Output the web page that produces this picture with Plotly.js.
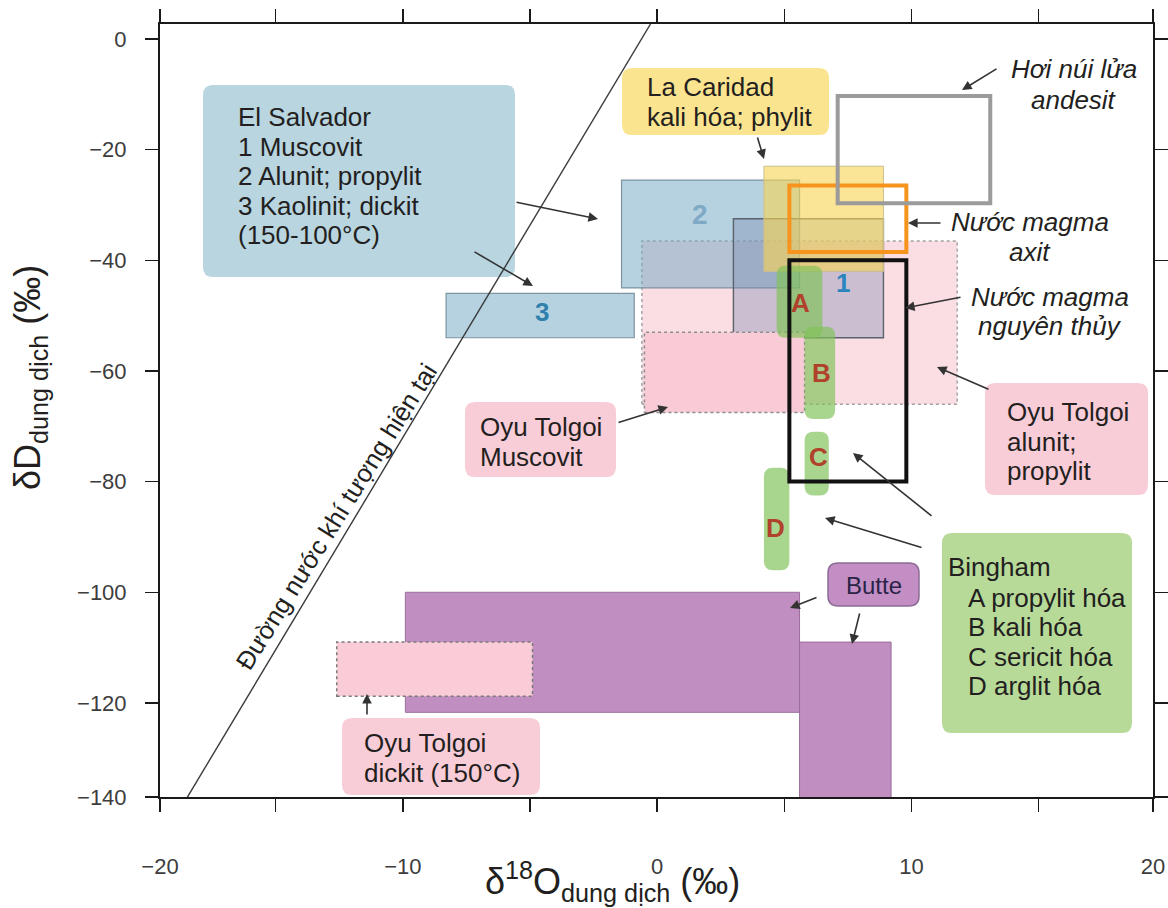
<!DOCTYPE html>
<html>
<head>
<meta charset="utf-8">
<script src="https://cdn.plot.ly/plotly-3.0.1.min.js"></script>
<style>
  html, body { margin: 0; padding: 0; background: #ffffff; }
  #chart { width: 1168px; height: 908px; }
</style>
</head>
<body>
<div id="chart"></div>
<script>
// Isotope fields: δ18O (‰) and δD (‰) ranges of each fluid / alteration field
const fieldKeys = ['otAlunit', 'es2', 'es3', 'es1', 'laCaridad', 'otMuscovit',
                   'butteWide', 'butteTall', 'otDickit',
                   'bA', 'bB', 'bC', 'bD',
                   'magmaPrimary', 'magmaAcid', 'andesite'];
const o18Min = [-0.6, -1.4, -8.3, 3.0, 4.2, -0.5, -9.9, 5.6, -12.6, 4.7, 5.8, 5.8, 4.2, 5.2, 5.2, 7.1];
const o18Max = [11.8, 5.6, -0.9, 8.9, 8.9, 5.8, 5.6, 9.2, -4.9, 6.5, 7.0, 6.75, 5.2, 9.8, 9.8, 13.1];
const dDMin  = [-66, -45, -54, -54, -42, -67.5, -121.7, -140, -118.8, -54, -68.7, -82.5, -96, -80, -38.5, -29.7];
const dDMax  = [-36.5, -25.5, -46, -32.5, -23, -53, -100, -109, -109, -41, -52, -71, -77.5, -40, -26.5, -10.3];

// Present-day meteoric water line (two end points)
const mwlO18 = [-18.9, -0.26];
const mwlD   = [-140.3, 2.7];

// Axis ticks
const xTickVals = [-19.55, -10, 0, 10, 19.5];
const xTickText = ['\u221220', '\u221210', '0', '10', '20'];
const xMinorVals = [-15, -5, 5, 15];
const yTickVals = [0, -20, -40, -60, -80, -100, -120, -137];
const yTickText = ['0', '\u221220', '\u221240', '\u221260', '\u221280', '\u2212100', '\u2212120', '\u2212140'];

const FONT = 'Liberation Sans, Arial, Helvetica, sans-serif';

// ---- geometry of the plotting area (page pixels) ----
const AREA = { L: 160, R: 1153, T: 24, B: 797 };
const W = AREA.R - AREA.L, H = AREA.B - AREA.T;
const xRange = [-19.55, 19.5], yRange = [-137, 2.7];
const pxX = px => (px - AREA.L) / W;          // page px -> paper fraction
const pxY = py => (AREA.B - py) / H;
const unitX = (xRange[1] - xRange[0]) / W;     // data units per pixel
const unitY = (yRange[1] - yRange[0]) / H;

function roundedPath(x0, y0, x1, y1, rx, ry) {
  const xa = Math.min(x0, x1), xb = Math.max(x0, x1);
  const ya = Math.min(y0, y1), yb = Math.max(y0, y1);
  return 'M' + (xa + rx) + ',' + ya +
    ' L' + (xb - rx) + ',' + ya + ' Q' + xb + ',' + ya + ' ' + xb + ',' + (ya + ry) +
    ' L' + xb + ',' + (yb - ry) + ' Q' + xb + ',' + yb + ' ' + (xb - rx) + ',' + yb +
    ' L' + (xa + rx) + ',' + yb + ' Q' + xa + ',' + yb + ' ' + xa + ',' + (yb - ry) +
    ' L' + xa + ',' + (ya + ry) + ' Q' + xa + ',' + ya + ' ' + (xa + rx) + ',' + ya + ' Z';
}

// ---- field styles ----
const NONE = 'rgba(0,0,0,0)';
const fieldStyle = {
  otAlunit:     { fill: '#fbdde4', line: '#a3a3a3', width: 1.5, dash: 'dot' },
  es2:          { fill: 'rgba(122,172,198,0.55)', line: '#7d94a1', width: 1.2 },
  es3:          { fill: 'rgba(122,172,198,0.55)', line: '#7d94a1', width: 1.2 },
  es1:          { fill: 'rgba(118,136,176,0.36)', line: '#5a636c', width: 1.4 },
  laCaridad:    { fill: 'rgba(247,212,86,0.62)', line: '#cdbf8c', width: 1 },
  otMuscovit:   { fill: '#f9cbd6', line: '#8d8d8d', width: 1.5, dash: 'dot' },
  butteWide:    { fill: '#c08ec0', line: '#9a6f9c', width: 1 },
  butteTall:    { fill: '#c08ec0', line: '#9a6f9c', width: 1 },
  otDickit:     { fill: '#f9ccd7', line: '#7a7a7a', width: 1.5, dash: 'dot' },
  bA:           { fill: 'rgba(128,194,88,0.68)', line: NONE, width: 0, round: true },
  bB:           { fill: 'rgba(128,194,88,0.68)', line: NONE, width: 0, round: true },
  bC:           { fill: 'rgba(128,194,88,0.68)', line: NONE, width: 0, round: true },
  bD:           { fill: 'rgba(128,194,88,0.68)', line: NONE, width: 0, round: true },
  magmaPrimary: { fill: NONE, line: '#111111', width: 4 },
  magmaAcid:    { fill: NONE, line: '#f7941d', width: 4 },
  andesite:     { fill: NONE, line: '#9b9b9b', width: 4 }
};

const shapes = [];

// ---- caption boxes (page px: left, top, right, bottom) ----
const boxes = [
  { box: [203, 85, 515, 277], fill: '#b8d5e0' },
  { box: [622, 68, 829, 135], fill: '#fbe48f' },
  { box: [465, 402, 616, 477], fill: '#f9cdd8' },
  { box: [985, 383, 1148, 495], fill: '#f9cdd8' },
  { box: [942, 533, 1132, 733], fill: '#b7da99' },
  { box: [828, 563, 919, 606], fill: '#c28ec3', line: '#8d6c95' },
  { box: [342, 718, 540, 795], fill: '#f9cdd8' }
];
boxes.forEach(b => {
  const r = 10;
  shapes.push({
    type: 'path', xref: 'paper', yref: 'paper', layer: 'below',
    path: roundedPath(pxX(b.box[0]), pxY(b.box[1]), pxX(b.box[2]), pxY(b.box[3]), r / W, r / H),
    fillcolor: b.fill,
    line: { color: b.line || NONE, width: b.line ? 1.5 : 0 }
  });
});

// ---- isotope fields drawn in data coordinates ----
fieldKeys.forEach((k, i) => {
  const s = fieldStyle[k];
  const base = {
    xref: 'x', yref: 'y', layer: 'below',
    fillcolor: s.fill,
    line: { color: s.line, width: s.width, dash: s.dash || 'solid' }
  };
  if (s.round) {
    shapes.push(Object.assign(base, {
      type: 'path',
      path: roundedPath(o18Min[i], dDMin[i], o18Max[i], dDMax[i], 9 * unitX, 9 * unitY)
    }));
  } else {
    shapes.push(Object.assign(base, {
      type: 'rect', x0: o18Min[i], x1: o18Max[i], y0: dDMin[i], y1: dDMax[i]
    }));
  }
});

// ---- annotations ----
const annotations = [];
function textLines(lines, xPx, yPx, step, opt) {
  opt = opt || {};
  lines.forEach((s, i) => {
    annotations.push({
      xref: 'paper', yref: 'paper', showarrow: false,
      x: pxX(xPx), y: pxY(yPx + i * step),
      xanchor: opt.anchor || 'left', yanchor: 'middle',
      text: opt.italic ? '<i>' + s + '</i>' : s,
      font: { family: FONT, size: opt.size || 26, color: opt.color || '#231f20' }
    });
  });
}
function arrow(tail, head) {
  annotations.push({
    xref: 'paper', yref: 'paper', axref: 'pixel', ayref: 'pixel',
    x: pxX(head[0]), y: pxY(head[1]),
    ax: tail[0] - head[0], ay: tail[1] - head[1],
    text: '', showarrow: true,
    arrowhead: 2, arrowsize: 1.2, arrowwidth: 1.6, arrowcolor: '#333333',
    standoff: 0, startstandoff: 0
  });
}

// caption texts
textLines(['El Salvador', '1 Muscovit', '2 Alunit; propylit', '3 Kaolinit; dickit', '(150-100\u00b0C)'], 236, 117, 29.5);
textLines(['La Caridad', 'kali h\u00f3a; phylit'], 645, 87, 30);
textLines(['Oyu Tolgoi', 'Muscovit'], 478, 427, 29.5);
textLines(['Oyu Tolgoi', 'alunit;', 'propylit'], 1005, 412, 29.5);
textLines(['Oyu Tolgoi', 'dickit (150\u00b0C)'], 362, 743, 29.5);
textLines(['Bingham'], 946, 567, 30);
textLines(['A propylit h\u00f3a', 'B kali h\u00f3a', 'C sericit h\u00f3a', 'D arglit h\u00f3a'], 966, 598, 29.3);
textLines(['Butte'], 874, 585, 30, { anchor: 'center', size: 24, color: '#2a2346' });
textLines(['H\u01a1i n\u00fai l\u1eeda', 'andesit'], 1074, 69, 31, { anchor: 'center', italic: true });
textLines(['N\u01b0\u1edbc magma', 'axit'], 1030, 222, 30, { anchor: 'center', italic: true });
textLines(['N\u01b0\u1edbc magma', 'nguy\u00ean th\u1ee7y'], 1050, 297, 29, { anchor: 'center', italic: true });

// field tags
const tags = [
  { t: '1', at: [843, 283], c: '#2a85bf', s: 26 },
  { t: '2', at: [700, 215], c: '#7eaac6', s: 28 },
  { t: '3', at: [542, 312], c: '#2f80ad', s: 26 },
  { t: 'A', at: [800, 303], c: '#b0412b', s: 26 },
  { t: 'B', at: [821, 373], c: '#b0412b', s: 26 },
  { t: 'C', at: [818, 457], c: '#b0412b', s: 26 },
  { t: 'D', at: [775, 528], c: '#b0412b', s: 26 }
];
tags.forEach(g => {
  annotations.push({
    xref: 'paper', yref: 'paper', showarrow: false,
    x: pxX(g.at[0]), y: pxY(g.at[1]), xanchor: 'center', yanchor: 'middle',
    text: '<b>' + g.t + '</b>', font: { family: FONT, size: g.s, color: g.c }
  });
});

// meteoric water line label
annotations.push({
  xref: 'paper', yref: 'paper', showarrow: false,
  x: pxX(336), y: pxY(517), xanchor: 'center', yanchor: 'middle',
  textangle: -58,
  text: '\u0110\u01b0\u1eddng n\u01b0\u1edbc kh\u00ed t\u01b0\u1ee3ng hi\u1ec7n t\u1ea1i',
  font: { family: FONT, size: 25.5, color: '#231f20' }
});

// pointers
arrow([515, 202], [598, 219]);
arrow([473, 251], [533, 286]);
arrow([757, 136], [764, 159]);
arrow([998, 68], [962, 90]);
arrow([942, 223], [908, 223]);
arrow([962, 297], [905, 308]);
arrow([990, 390], [937, 367]);
arrow([617, 423], [668, 407]);
arrow([933, 517], [853, 453]);
arrow([923, 548], [825, 518]);
arrow([818, 597], [790, 608]);
arrow([860, 612], [852, 644]);
arrow([367, 716], [367, 694]);

// axis titles
annotations.push({
  xref: 'paper', yref: 'paper', showarrow: false,
  x: pxX(612), y: pxY(882), xanchor: 'center', yanchor: 'middle',
  text: '\u03b4<sup>18</sup>O<sub>dung d\u1ecbch</sub> (\u2030)',
  font: { family: FONT, size: 36, color: '#231f20' }
});
annotations.push({
  xref: 'paper', yref: 'paper', showarrow: false,
  x: pxX(30), y: pxY(378), xanchor: 'center', yanchor: 'middle',
  textangle: -90,
  text: '\u03b4D<sub>dung d\u1ecbch</sub> (\u2030)',
  font: { family: FONT, size: 36, color: '#231f20' }
});

const traces = [{
  type: 'scatter', mode: 'lines',
  x: mwlO18, y: mwlD,
  line: { color: '#3a3a3a', width: 1.4 },
  hoverinfo: 'skip', showlegend: false
}];

const axisCommon = {
  showline: true, linewidth: 2, linecolor: '#1a1a1a', mirror: 'allticks',
  ticks: 'outside', ticklen: 13, tickwidth: 1.5, tickcolor: '#1a1a1a',
  showgrid: false, zeroline: false, fixedrange: true,
  tickfont: { family: FONT, size: 22, color: '#3d3d3d' }
};

const layout = {
  width: 1168, height: 908,
  margin: { l: AREA.L, r: 1168 - AREA.R, t: AREA.T, b: 908 - AREA.B, pad: 0 },
  paper_bgcolor: '#ffffff', plot_bgcolor: '#ffffff',
  showlegend: false,
  font: { family: FONT, color: '#231f20' },
  xaxis: Object.assign({}, axisCommon, {
    range: xRange, tickmode: 'array', tickvals: xTickVals, ticktext: xTickText,
    ticklabelstandoff: 36,
    minor: { tickmode: 'array', tickvals: xMinorVals, ticks: 'outside', ticklen: 13, tickwidth: 1.5, tickcolor: '#1a1a1a', showgrid: false }
  }),
  yaxis: Object.assign({}, axisCommon, {
    range: yRange, tickmode: 'array', tickvals: yTickVals, ticktext: yTickText,
    ticklabelstandoff: 14
  }),
  shapes: shapes,
  annotations: annotations
};

Plotly.newPlot('chart', traces, layout, { staticPlot: true, displayModeBar: false });
</script>
</body>
</html>
